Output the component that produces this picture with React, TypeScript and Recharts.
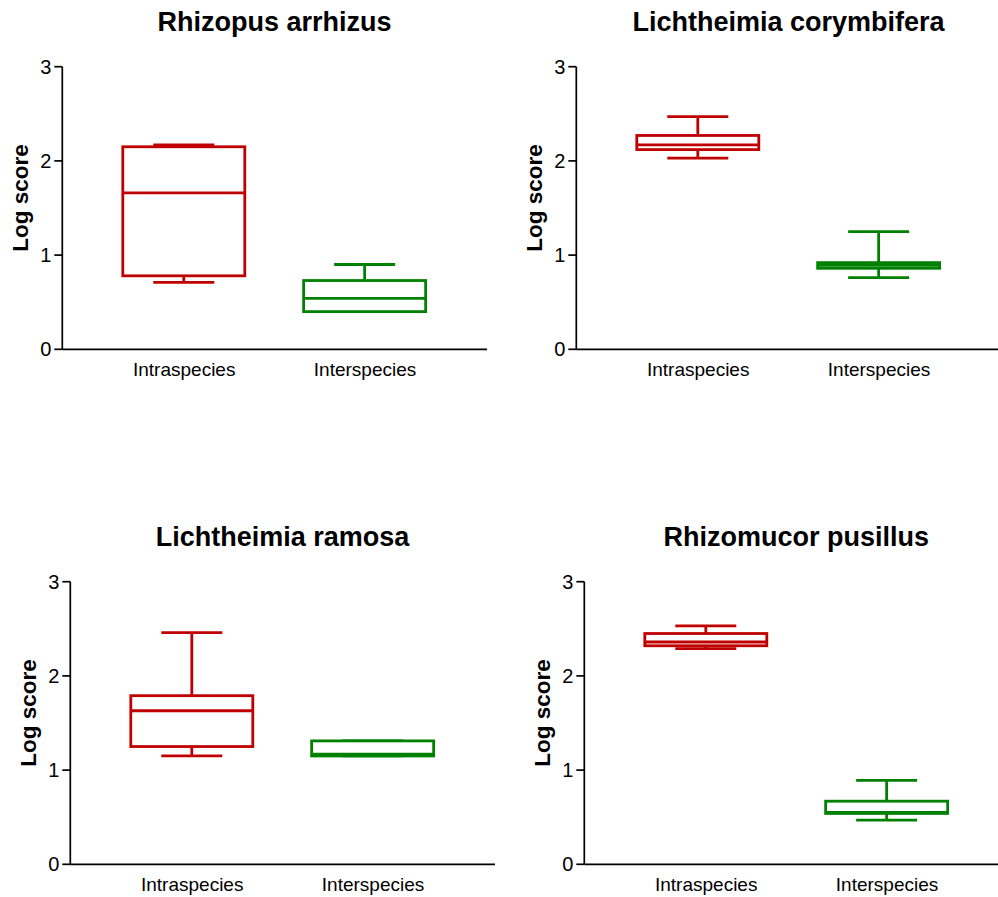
import React from "react"
import { ComposedChart, Bar, XAxis, YAxis } from "recharts"

// box plot data: min / q1 / median / q3 / max per group
const groups = ["Intraspecies", "Interspecies"]
const groupColors = ["#c00000", "#008000"]
const yTicks = [0, 1, 2, 3]

const titles = [
  "Rhizopus arrhizus",
  "Lichtheimia corymbifera",
  "Lichtheimia ramosa",
  "Rhizomucor pusillus",
]

const arrhizusMin = [0.71, 0.4]
const arrhizusQ1 = [0.78, 0.4]
const arrhizusMedian = [1.66, 0.54]
const arrhizusQ3 = [2.15, 0.73]
const arrhizusMax = [2.17, 0.9]

const corymbiferaMin = [2.03, 0.76]
const corymbiferaQ1 = [2.12, 0.86]
const corymbiferaMedian = [2.17, 0.89]
const corymbiferaQ3 = [2.27, 0.92]
const corymbiferaMax = [2.47, 1.25]

const ramosaMin = [1.15, 1.15]
const ramosaQ1 = [1.25, 1.15]
const ramosaMedian = [1.63, 1.17]
const ramosaQ3 = [1.79, 1.31]
const ramosaMax = [2.46, 1.31]

const pusillusMin = [2.29, 0.47]
const pusillusQ1 = [2.32, 0.54]
const pusillusMedian = [2.36, 0.55]
const pusillusQ3 = [2.45, 0.67]
const pusillusMax = [2.53, 0.89]

const buildRows = (min: number[], q1: number[], med: number[], q3: number[], max: number[]) =>
  groups.map((g, i) => ({
    group: g,
    color: groupColors[i],
    min: min[i],
    q1: q1[i],
    median: med[i],
    q3: q3[i],
    max: max[i],
  }))

const panels = [
  { title: titles[0], rows: buildRows(arrhizusMin, arrhizusQ1, arrhizusMedian, arrhizusQ3, arrhizusMax), left: 0, top: 0 },
  { title: titles[1], rows: buildRows(corymbiferaMin, corymbiferaQ1, corymbiferaMedian, corymbiferaQ3, corymbiferaMax), left: 514, top: 0 },
  { title: titles[2], rows: buildRows(ramosaMin, ramosaQ1, ramosaMedian, ramosaQ3, ramosaMax), left: 8, top: 515 },
  { title: titles[3], rows: buildRows(pusillusMin, pusillusQ1, pusillusMedian, pusillusQ3, pusillusMax), left: 521.7, top: 515 },
]

const FONT = "'Liberation Sans', Arial, sans-serif"
const SW = 2.8

// the bar spans min..max, everything else is placed on that pixel range
const BoxShape = (props: any) => {
  const { x, y, width, height, payload } = props
  if (!payload) return null
  const top = Math.min(y, y + height)
  const bottom = Math.max(y, y + height)
  const span = payload.max - payload.min
  const px = (v: number) => (span === 0 ? bottom : bottom - ((v - payload.min) / span) * (bottom - top))
  const cx = x + width / 2
  const capHalf = width / 4
  const c = payload.color
  const yQ1 = px(payload.q1)
  const yQ3 = px(payload.q3)
  const yMed = px(payload.median)
  return (
    <g fill="none" stroke={c} strokeWidth={SW}>
      <line x1={cx} x2={cx} y1={top} y2={yQ3} />
      <line x1={cx - capHalf} x2={cx + capHalf} y1={top} y2={top} />
      <line x1={cx} x2={cx} y1={yQ1} y2={bottom} />
      <line x1={cx - capHalf} x2={cx + capHalf} y1={bottom} y2={bottom} />
      <rect x={x} y={yQ3} width={width} height={yQ1 - yQ3} fill="#fff" />
      <line x1={x} x2={x + width} y1={yMed} y2={yMed} />
    </g>
  )
}

function Panel({ title, rows, left, top }: any) {
  return (
    <div style={{ position: "absolute", left, top, width: 489, height: 390 }}>
      <div
        style={{
          position: "absolute",
          left: 274.6,
          top: 8.8,
          transform: "translateX(-50%)",
          whiteSpace: "nowrap",
          fontSize: 27,
          lineHeight: 1,
          fontWeight: "bold",
          color: "#000",
        }}
      >
        {title}
      </div>
      <div
        style={{
          position: "absolute",
          left: 21,
          top: 198,
          transform: "translate(-50%, -50%) rotate(-90deg)",
          whiteSpace: "nowrap",
          fontSize: 22.5,
          lineHeight: 1,
          fontWeight: "bold",
          color: "#000",
        }}
      >
        Log score
      </div>
      <div style={{ position: "absolute", left: 0, top: 0 }}>
        <ComposedChart
          width={489}
          height={390}
          data={rows}
          margin={{ top: 66.7, right: 2, bottom: 10.7, left: 0 }}
          barSize={122}
        >
          <XAxis
            dataKey="group"
            type="category"
            height={30}
            padding={{ left: 31.5, right: 31.5 }}
            axisLine={{ stroke: "#000", strokeWidth: 1.7 }}
            tickLine={false}
            tickSize={0}
            tickMargin={13}
            tick={{ fill: "#000", fontSize: 19, fontFamily: FONT }}
          />
          <YAxis
            type="number"
            domain={[0, 3]}
            ticks={yTicks}
            width={62.3}
            axisLine={{ stroke: "#000", strokeWidth: 1.7 }}
            tickLine={{ stroke: "#000", strokeWidth: 1.7 }}
            tickSize={8}
            tickMargin={3}
            tick={{ fill: "#000", fontSize: 20, fontFamily: FONT }}
          />
          <Bar dataKey={(d: any) => [d.min, d.max]} shape={<BoxShape />} isAnimationActive={false} />
        </ComposedChart>
      </div>
    </div>
  )
}

export default function App() {
  return (
    <div
      style={{
        position: "absolute",
        left: 0,
        top: 0,
        width: 998,
        height: 897,
        overflow: "hidden",
        background: "#fff",
        fontFamily: FONT,
      }}
    >
      {panels.map((p) => (
        <Panel key={p.title} {...p} />
      ))}
    </div>
  )
}
